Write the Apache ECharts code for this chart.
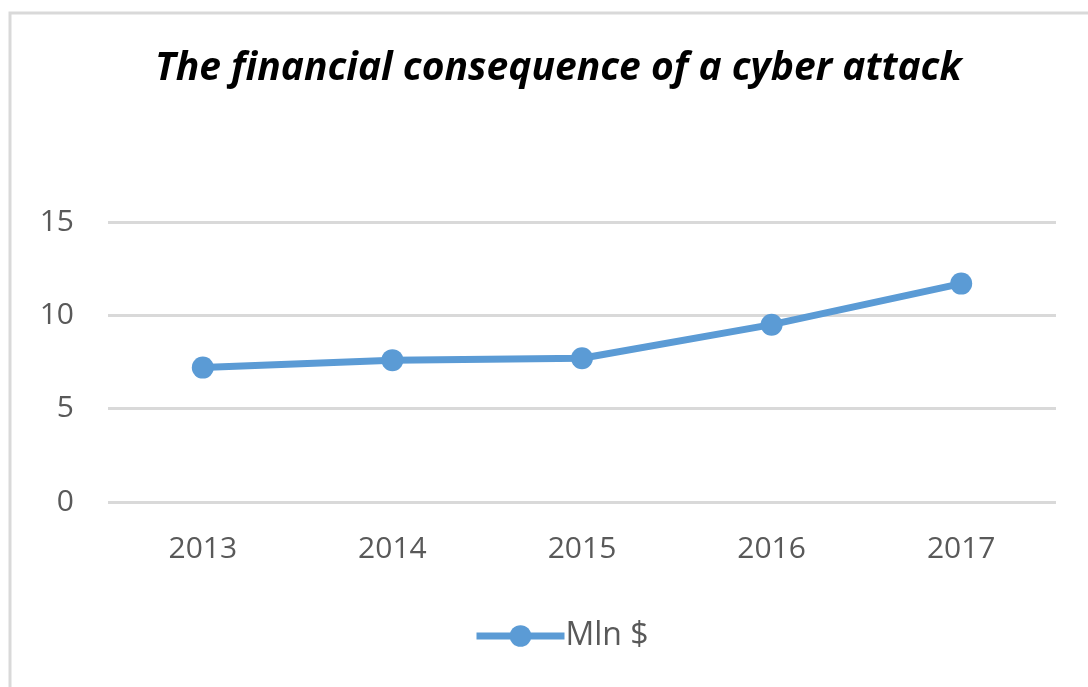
<!DOCTYPE html>
<html>
<head>
<meta charset="utf-8">
<script src="https://cdn.jsdelivr.net/npm/echarts@6/dist/echarts.min.js"></script>
<style>
  html, body { margin: 0; padding: 0; background: #fff; }
  #main { width: 1088px; height: 687px; }
</style>
</head>
<body>
<div id="main"></div>
<script>
var years = ['2013', '2014', '2015', '2016', '2017'];
var mln = [7.2, 7.6, 7.7, 9.5, 11.7];
var yTicks = [0, 5, 10, 15];

var myChart = echarts.init(document.getElementById('main'));
var option = {
    backgroundColor: '#fff',
    graphic: [{
        type: 'rect',
        shape: { x: 10, y: 13, width: 1100, height: 700 },
        style: { fill: 'none', stroke: '#d9d9d9', lineWidth: 3 },
        silent: true
    }],
    title: {
        text: 'The financial consequence of a cyber attack',
        left: 150,
        top: 44,
        textStyle: {
            fontFamily: 'Open Sans',
            fontSize: 39,
            fontWeight: 'bold',
            fontStyle: 'italic',
            color: '#000'
        }
    },
    legend: {
        data: ['Mln $'],
        bottom: 30,
        left: 468,
        itemWidth: 88,
        itemHeight: 27,
        itemGap: 4,
        lineStyle: { width: 7 },
        textStyle: { fontFamily: 'Open Sans', fontSize: 32, color: '#595959', padding: [0, 0, 0, -4] }
    },
    grid: { left: 108, right: 32, top: 222, bottom: 185 },
    xAxis: {
        type: 'category',
        data: years,
        boundaryGap: true,
        axisLine: { show: false },
        axisTick: { show: false },
        axisLabel: { fontFamily: 'Open Sans', fontSize: 30, color: '#595959', margin: 32 }
    },
    yAxis: {
        type: 'value',
        min: yTicks[0],
        max: yTicks[yTicks.length - 1],
        interval: 5,
        axisLine: { show: false },
        axisTick: { show: false },
        splitLine: { lineStyle: { color: '#d9d9d9', width: 3 } },
        axisLabel: { fontFamily: 'Open Sans', fontSize: 30, color: '#595959', margin: 34 }
    },
    series: [{
        name: 'Mln $',
        type: 'line',
        data: mln,
        symbol: 'circle',
        symbolSize: 22,
        color: '#5b9bd5',
        lineStyle: { width: 7, color: '#5b9bd5' },
        itemStyle: { color: '#5b9bd5' }
    }]
};
myChart.setOption(option);
</script>
</body>
</html>
